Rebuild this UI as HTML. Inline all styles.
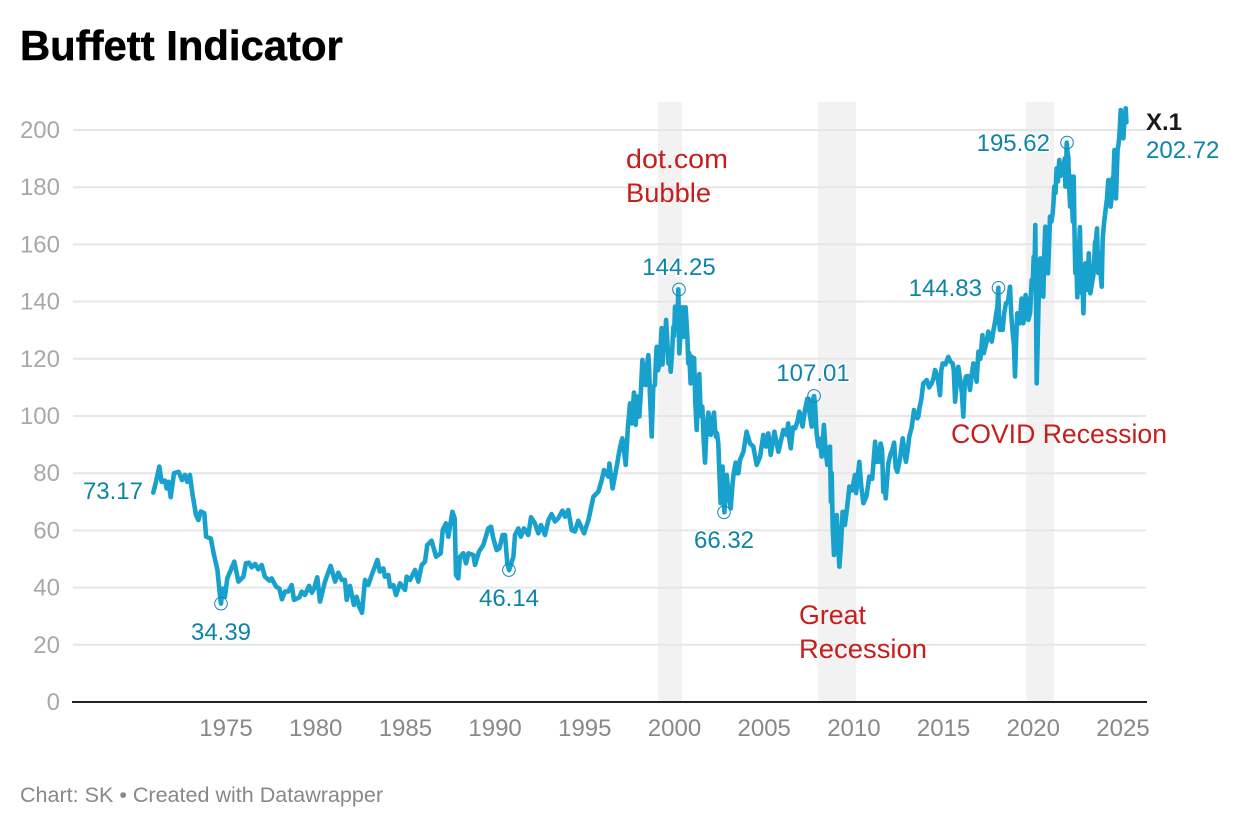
<!DOCTYPE html>
<html lang="en">
<head>
<meta charset="utf-8">
<title>Buffett Indicator</title>
<style>
html,body{margin:0;padding:0;background:#fff;}
#chart{display:block;width:1240px;height:828px;font-family:"Liberation Sans",sans-serif;}
.val{font-size:24px;fill:#0d84a8;stroke:#fff;stroke-width:3px;paint-order:stroke;stroke-linejoin:round;}
.note{font-size:27px;fill:#c71e1d;}
</style>
</head>
<body>
<svg id="chart" xmlns="http://www.w3.org/2000/svg" width="1240" height="828" viewBox="0 0 1240 828">
  <text x="20" y="60" font-size="41.8" font-weight="700" fill="#000" stroke="#000" stroke-width="0.5">Buffett Indicator</text>
  <g id="bands"></g>
  <g id="grid"></g>
  <g id="yticks"></g>
  <g id="xticks"></g>
  <line id="baseline" stroke="#222" stroke-width="2"></line>
  <path id="line" fill="none" stroke="#18a1cd" stroke-width="4.6" stroke-linejoin="round" stroke-linecap="round"></path>
  <g id="markers"></g>
  <text class="val" x="143" y="499" text-anchor="end">73.17</text>
  <text class="val" x="221" y="640" text-anchor="middle">34.39</text>
  <text class="val" x="509" y="606" text-anchor="middle">46.14</text>
  <text class="val" x="679" y="275" text-anchor="middle">144.25</text>
  <text class="val" x="724" y="548" text-anchor="middle">66.32</text>
  <text class="val" x="813" y="381" text-anchor="middle">107.01</text>
  <text class="val" x="982" y="296" text-anchor="end">144.83</text>
  <text class="val" x="1050" y="151" text-anchor="end">195.62</text>
  <text x="1146" y="130" font-size="24" font-weight="700" fill="#1a1a1a">X.1</text>
  <text class="val" x="1146" y="158">202.72</text>
  <text class="note" x="626" y="168" textLength="102" lengthAdjust="spacingAndGlyphs">dot.com</text>
  <text class="note" x="626" y="202" textLength="85" lengthAdjust="spacingAndGlyphs">Bubble</text>
  <text class="note" x="799" y="624" textLength="67" lengthAdjust="spacingAndGlyphs">Great</text>
  <text class="note" x="799" y="658" textLength="128" lengthAdjust="spacingAndGlyphs">Recession</text>
  <text class="note" x="951" y="443" textLength="216" lengthAdjust="spacingAndGlyphs">COVID Recession</text>
  <text x="20" y="802" font-size="21.5" fill="#888" textLength="363" lengthAdjust="spacingAndGlyphs">Chart: SK • Created with Datawrapper</text>
</svg>
<script>
const yTickValues = [0,20,40,60,80,100,120,140,160,180,200];
const xTickYears = [1975,1980,1985,1990,1995,2000,2005,2010,2015,2020,2025];
const bandStarts = [1999.08,2008.0,2019.6];
const bandEnds = [2000.42,2010.12,2021.15];
const highlightYears = [1974.72,1990.77,2000.25,2002.76,2007.78,2018.06,2021.88];
const highlightValues = [34.39,46.14,144.25,66.32,107.01,144.83,195.62];
const years = [
1970.95,1971.10,1971.28,1971.41,1971.60,1971.69,1971.80,1971.92,1972.10,1972.36,1972.55,1972.71,1972.84,1972.99,1973.14,1973.33,1973.46,1973.59,1973.79,1973.89,
1974.15,1974.33,1974.52,1974.67,1974.72,1974.81,1974.94,1975.07,1975.46,1975.69,1975.97,1976.11,1976.28,1976.43,1976.62,1976.80,1976.99,1977.17,1977.42,1977.55,
1977.79,1977.97,1978.12,1978.29,1978.47,1978.66,1978.79,1979.09,1979.22,1979.40,1979.63,1979.78,1979.91,1980.09,1980.24,1980.52,1980.83,1981.08,1981.26,1981.45,
1981.63,1981.73,1981.91,1982.13,1982.28,1982.43,1982.58,1982.75,1982.93,1983.12,1983.44,1983.58,1983.77,1983.86,1984.05,1984.14,1984.33,1984.48,1984.70,
1984.98,1985.07,1985.26,1985.54,1985.72,1985.91,1986.09,1986.22,1986.46,1986.71,1986.97,1987.08,1987.26,1987.39,1987.62,1987.75,1987.82,1987.95,1988.04,1988.23,
1988.38,1988.51,1988.79,1988.88,1989.10,1989.34,1989.62,1989.77,1989.90,1990.09,1990.24,1990.42,1990.55,1990.68,1990.78,1991.02,1991.11,1991.30,1991.43,1991.61,
1991.85,1992.00,1992.22,1992.41,1992.56,1992.78,1992.97,1993.15,1993.34,1993.52,1993.75,1993.90,1994.08,1994.27,1994.45,1994.64,
1994.96,1995.20,1995.48,1995.75,1995.94,1996.07,1996.31,1996.37,1996.55,1996.78,1996.92,1997.09,1997.28,1997.52,1997.63,1997.74,1997.84,1997.93,1998.04,
1998.21,1998.30,1998.39,1998.54,1998.63,1998.73,1998.82,1998.91,1999.01,1999.15,1999.28,1999.38,1999.53,1999.66,1999.79,1999.94,2000.03,2000.12,2000.21,2000.27,
2000.40,2000.51,2000.62,2000.72,2000.77,2000.90,2000.96,2001.09,2001.24,2001.38,2001.55,2001.70,2001.89,2002.02,2002.20,2002.31,2002.44,2002.57,2002.68,2002.78,
2002.91,2003.13,2003.24,2003.41,2003.56,2003.65,2003.84,2004.02,2004.21,2004.39,2004.58,2004.77,2004.95,2005.10,2005.23,2005.36,2005.57,2005.79,
2006.07,2006.25,2006.34,2006.48,2006.72,2006.96,2007.14,2007.40,2007.52,2007.65,2007.83,2008.02,2008.20,2008.33,2008.52,2008.67,2008.76,2008.82,2008.89,2009.04,
2009.19,2009.37,2009.50,2009.75,2010.06,2010.12,2010.30,2010.53,2010.86,2011.18,2011.27,2011.49,2011.64,2011.77,2011.92,2012.05,2012.24,2012.42,2012.72,2012.90,
2013.09,2013.35,2013.54,2013.65,2013.87,2014.06,2014.33,2014.52,2014.80,2014.95,2015.26,2015.51,2015.64,2015.82,2015.91,2016.10,2016.25,2016.47,2016.66,2016.84,2016.94,
2017.16,2017.31,2017.49,2017.68,2017.87,2018.00,2018.05,2018.14,2018.29,2018.48,2018.70,2018.85,2018.98,2019.11,2019.26,2019.35,2019.44,2019.57,2019.72,2019.91,
2020.02,2020.11,2020.19,2020.30,2020.39,2020.56,2020.67,2020.82,2020.93,2021.08,2021.17,2021.30,2021.45,2021.58,2021.71,2021.79,2021.86,2021.95,2022.05,2022.10,2022.25,2022.29,
2022.38,2022.45,2022.60,2022.71,2022.79,2022.90,2023.01,2023.09,2023.18,2023.35,2023.44,2023.55,2023.68,2023.81,2023.94,2024.05,2024.18,2024.31,2024.42,2024.52,2024.61,
2024.70,2024.79,2024.87,2025.02,2025.15,2025.19
];
const values = [
73.2,77.0,82.3,77.0,77.4,74.7,77.0,71.6,80.0,80.5,77.6,79.4,77.0,79.4,72.4,65.4,63.6,66.6,66.0,57.8,
57.2,51.4,46.2,36.8,34.4,39.7,36.8,43.2,49.1,42.1,43.8,48.5,48.7,47.1,48.3,46.4,47.9,43.8,42.4,43.2,
40.3,39.7,35.9,38.6,38.6,40.9,35.7,36.6,38.6,37.4,40.6,38.2,39.7,43.6,35.1,42.1,47.6,42.1,45.2,42.7,
42.7,35.7,40.6,33.9,36.8,33.3,31.2,42.7,40.9,44.4,49.7,45.6,46.7,43.8,44.4,40.3,40.9,37.4,41.5,
39.2,43.8,42.7,46.2,42.1,47.9,49.1,54.9,56.4,50.8,52.0,60.1,62.5,57.8,66.5,64.2,44.4,43.2,50.8,52.0,
48.5,52.0,51.4,47.9,52.6,54.9,60.7,61.3,57.2,53.1,53.7,58.4,58.4,48.5,46.1,50.8,58.4,60.7,57.8,60.7,
58.4,64.6,62.5,59.0,61.9,58.4,63.6,65.7,63.1,64.2,66.9,64.8,67.1,60.1,59.6,63.4,
59.0,63.6,71.8,73.5,77.6,81.1,78.8,83.4,74.7,82.3,87.5,92.2,82.9,104.4,97.4,108.2,96.9,106.8,99.8,
119.6,111.4,110.8,121.3,107.9,92.8,110.3,110.8,124.2,117.8,130.7,124.2,133.6,118.4,115.5,131.2,138.2,130.1,144.25,121.9,
132.4,127.7,138.0,127.2,118.4,111.4,120.7,120.2,95.1,114.7,103.3,83.7,101.2,93.4,101.2,92.8,90.4,69.5,82.3,66.32,
79.4,67.7,76.5,83.7,80.0,84.6,87.5,94.5,90.4,89.3,82.9,85.8,93.4,89.3,93.9,86.4,94.5,87.5,
95.1,93.4,97.4,88.7,95.7,101.5,96.3,106.0,101.4,96.3,104.4,89.3,85.8,96.9,82.9,89.3,80.0,61.3,51.4,65.4,
47.3,66.5,61.9,75.3,79.4,73.0,84.0,69.5,78.8,91.0,84.0,90.4,73.5,71.2,83.4,86.9,90.7,80.5,92.2,84.0,
92.8,102.1,99.2,102.7,111.4,112.6,111.4,116.1,107.3,118.4,120.7,118.4,105.0,117.2,113.2,99.8,113.8,109.1,118.4,112.0,122.5,
128.3,123.7,129.5,126.0,133.0,138.0,144.83,130.1,130.1,139.4,145.2,128.9,113.8,135.9,132.4,141.1,132.4,142.3,133.6,147.6,
155.7,166.8,111.4,141.7,155.1,141.7,166.2,149.9,169.7,170.9,180.2,186.6,189.5,186.0,188.3,180.2,195.62,190.7,173.2,183.7,183.7,166.2,
152.2,141.5,166.0,142.9,135.9,153.4,144.1,156.9,142.9,149.3,160.4,165.6,156.9,145.2,167.4,173.2,182.5,173.2,183.1,193.0,176.1,
193.0,197.1,207.0,197.1,207.6,202.7
];
/* Additional readings from the dense stretches of the series */
const detailYears = [
1997.00,1997.18,1997.40,1997.58,1997.69,1997.79,1997.98,1998.12,1998.26,1998.46,
1998.58,1998.95,1999.08,1999.21,1999.33,1999.46,1999.60,1999.72,1999.86,1999.98,
2000.07,2000.16,2000.24,2000.33,2000.45,2000.56,2000.67,2000.82,2000.93,2001.03,
2001.16,2001.31,2001.46,2001.62,2001.80,2001.95,2002.11,2002.25,2002.37,2002.50,
2002.62,2002.73,2002.85,2003.02,2003.30,2003.47,2006.15,2006.40,2006.60,2006.85,
2007.05,2007.27,2007.46,2007.58,2007.72,2007.78,2007.92,2008.10,2008.26,2008.42,
2008.58,2008.72,2008.98,2009.12,2009.28,2009.43,2009.62,2009.90,2010.20,2010.42,
2010.70,2011.02,2011.37,2011.57,2011.70,2012.14,2012.33,2012.57,2012.81,2013.00,
2013.22,2013.45,2013.60,2013.76,2013.97,2014.19,2014.43,2014.66,2014.87,2015.10,
2015.38,2015.57,2015.73,2016.02,2016.18,2016.36,2016.56,2016.75,2017.05,2017.24,
2017.40,2017.58,2017.78,2017.94,2018.09,2018.22,2018.38,2018.59,2018.77,2018.92,
2019.05,2019.18,2019.31,2019.50,2019.65,2019.82,2019.96,2020.07,2020.24,2020.35,
2020.48,2020.62,2020.75,2020.88,2021.01,2021.12,2021.24,2021.37,2021.52,2021.65,
2021.75,2021.83,2021.91,2022.00,2022.14,2022.20,2022.34,2022.42,2022.52,2022.65,
2022.75,2022.85,2022.96,2023.05,2023.13,2023.26,2023.40,2023.50,2023.62,2023.75,
2023.87,2023.99,2024.11,2024.25,2024.36,2024.47,2024.57,2024.66,2024.75,2024.83,
2024.95,2025.08
];
const detailValues = [
90,88,96,100,104,101,103,108,116,117,
118,118,116,122,118,124,126,122,122,128,
136,132,135,128,138,136,133,122,116,112,
105,108,100,92,97,98,98,96,94,80,
78,72,74,72,80,80,95,92,96,98,
99,102,106,99,106,107.01,94,92,90,88,
86,70,58,55,55,62,68,74,78,75,
72,78,84,88,78,88,82,85,88,88,
96,100,100,106,112,110,113,114,116,118,
119,116,112,108,112,114,114,116,120,122,
126,128,130,136,134,134,136,140,136,125,
128,134,138,135,140,136,145,152,125,148,
150,158,158,160,168,174,178,182,184,185,
190,186,192,180,178,168,150,150,155,150,
146,148,152,145,152,146,155,162,150,150,
162,170,176,180,176,184,178,186,195,202,
198,204
];

const svgNS = "http://www.w3.org/2000/svg";
const xOf = function (year) { return 226 + (year - 1975) * 17.94; };
const yOf = function (value) { return 702 - value * 2.86; };
const mk = function (tag, parent) {
  const el = document.createElementNS(svgNS, tag);
  document.getElementById(parent).appendChild(el);
  return el;
};

bandStarts.forEach(function (start, i) {
  const r = mk('rect', 'bands');
  
  
  r.setAttribute('x', xOf(start));
  r.setAttribute('y', 102);
  r.setAttribute('width', xOf(bandEnds[i]) - xOf(start));
  r.setAttribute('height', 600);
  r.setAttribute('fill', '#f2f2f2');
});

yTickValues.forEach(function (v) {
  if (v !== 0) {
    const g = mk('line', 'grid');
    
    
    g.setAttribute('x1', 73);
    g.setAttribute('x2', 1146);
    g.setAttribute('y1', yOf(v));
    g.setAttribute('y2', yOf(v));
    g.setAttribute('stroke', '#e6e6e6');
    g.setAttribute('stroke-width', 2);
  }
  const t = mk('text', 'yticks');
  
  
  t.setAttribute('x', 60);
  t.setAttribute('y', yOf(v) + 8);
  t.setAttribute('text-anchor', 'end');
  t.setAttribute('font-size', 24);
  t.setAttribute('fill', '#a8a8a8');
  t.textContent = v;
});

xTickYears.forEach(function (yr) {
  const t = mk('text', 'xticks');
  
  
  t.setAttribute('x', xOf(yr));
  t.setAttribute('y', 736);
  t.setAttribute('text-anchor', 'middle');
  t.setAttribute('font-size', 24);
  t.setAttribute('fill', '#888');
  t.textContent = yr;
});

const base = document.getElementById('baseline');
base.setAttribute('x1', 72);
base.setAttribute('x2', 1147);
base.setAttribute('y1', yOf(0));
base.setAttribute('y2', yOf(0));

const coarsePoints = years.map(function (yr, i) { return [yr, values[i]]; });
const detailPoints = detailYears.map(function (yr, i) { return [yr, detailValues[i]]; });
const allPoints = coarsePoints.concat(detailPoints).sort(function (a, b) { return a[0] - b[0]; });
document.getElementById('line').setAttribute('d', allPoints.map(function (p, i) {
  return (i ? 'L' : 'M') + xOf(p[0]).toFixed(1) + ' ' + yOf(p[1]).toFixed(1);
}).join(''));

highlightYears.forEach(function (yr, i) {
  const c = mk('circle', 'markers');
  
  
  c.setAttribute('cx', xOf(yr));
  c.setAttribute('cy', yOf(highlightValues[i]));
  c.setAttribute('r', 6.3);
  c.setAttribute('fill', 'none');
  c.setAttribute('stroke', '#1587ab');
  c.setAttribute('stroke-width', 1);
});
</script>
</body>
</html>
